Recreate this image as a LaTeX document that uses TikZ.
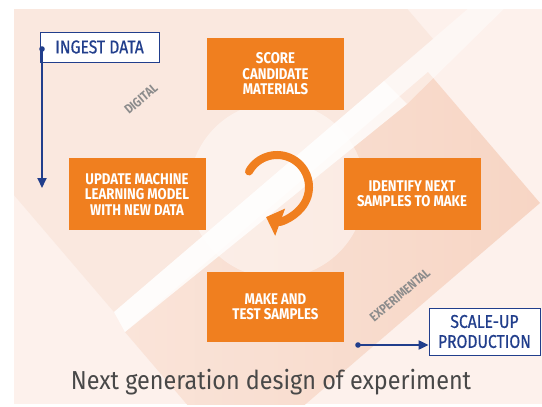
\documentclass[tikz,border=0pt]{standalone}
\usepackage{fontspec}
\setmainfont{Fira Sans}
\newfontfamily\boxfont{Fira Sans}[FakeStretch=0.85]
\newfontfamily\tagfont{Fira Sans}[FakeStretch=0.85, FakeBold=0.6]
\newfontfamily\capfont{Fira Sans}[FakeStretch=0.9]
\usetikzlibrary{arrows.meta, positioning}

\definecolor{peach}{RGB}{253,241,236}
\definecolor{peachmid}{RGB}{250,232,223}
\definecolor{peachlight}{RGB}{250,228,217}
\definecolor{peachdark}{RGB}{247,213,196}
\definecolor{boxorange}{RGB}{240,127,31}
\definecolor{navy}{RGB}{33,62,140}
\definecolor{captiongray}{RGB}{72,72,72}

\begin{document}
\begin{tikzpicture}[x=1pt, y=-1pt,
    stepbox/.style={fill=boxorange, text=white, align=center, inner sep=0pt,
      minimum width=137pt, minimum height=72pt,
      font=\boxfont\bfseries\fontsize{15.5}{15.5}\selectfont},
    tagbox/.style={draw=navy, line width=0.8pt, fill=white, text=navy, align=center,
      inner sep=0pt, font=\tagfont\fontsize{18.5}{20}\selectfont},
    sidelabel/.style={text=black!45, rotate=40,
      font=\boxfont\bfseries\fontsize{13}{13}\selectfont},
    flow/.style={navy, line width=2pt, -{Triangle[width=9pt,length=10pt]}}]

    \useasboundingbox (0,0) rectangle (542,407);

    % background panel
    \fill[peach] (14,9) rectangle (542,404);
    \begin{scope}
      \clip (14,9) rectangle (542,404);
      \fill[peachmid] (114,312) -- (433,39) -- (173,-265) -- (-146,8) -- cycle;
      \shade[left color=peachlight, right color=peachdark]
        (428,72) -- (540,203) -- (237,463) -- (125,332) -- cycle;
      \fill[white, opacity=0.45] (277,190) circle (88);
      % white stripe, fading towards the top
      \fill[white, opacity=0.8] (114,312) -- (384,81) -- (407,104) -- (125,332) -- cycle;
      \fill[white, opacity=0.45] (384,81) -- (484,-5) -- (518,-5) -- (407,104) -- cycle;
    \end{scope}

    % the four steps
    \node[stepbox] (score) at (275.5,74) {SCORE\\CANDIDATE\\MATERIALS};
    \node[stepbox] (update) at (137,194) {UPDATE MACHINE\\LEARNING MODEL\\WITH NEW DATA};
    \node[stepbox] (identify) at (412,194) {IDENTIFY NEXT\\SAMPLES TO MAKE};
    \node[stepbox, minimum height=70pt] (make) at (275.5,307) {MAKE AND\\TEST SAMPLES};

    % loop arrow
    \coordinate (loop) at (277,187);
    \draw[boxorange, line width=8pt, line cap=round, -{Triangle[width=28pt,length=15pt]}]
      ([shift={(-151:32)}]loop) arc[start angle=-151, end angle=110, radius=32];

    % side labels
    \node[sidelabel] (digital) at (141,99) {DIGITAL};
    \node[sidelabel] (experimental) at (400,295) {EXPERIMENTAL};

    % in and out
    \node[tagbox, minimum width=119pt, minimum height=30pt] (ingest) at (99.5,47) {INGEST DATA};
    \node[tagbox, minimum width=111pt, minimum height=47pt] (scaleup) at (484.5,331.5) {SCALE-UP\\PRODUCTION};

    \coordinate (ingeststart) at (42,49);
    \coordinate (ingestend) at (42,188);
    \fill[navy] (ingeststart) circle (2.8);
    \draw[flow] (ingeststart) -- (ingestend);

    \coordinate (scalestart) at (358,345);
    \fill[navy] (scalestart) circle (2.8);
    \draw[flow] (scalestart) -- (scalestart -| scaleup.west);

    \node[text=captiongray, anchor=base, font=\capfont\fontsize{26}{26}\selectfont] (caption)
      at (271,389) {Next generation design of experiment};
\end{tikzpicture}
\end{document}
